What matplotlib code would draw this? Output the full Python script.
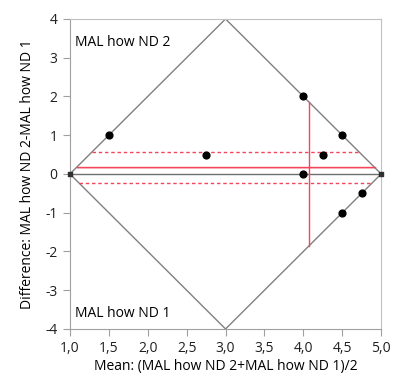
import matplotlib
matplotlib.use("Agg")
import matplotlib.pyplot as plt
import numpy as np
from matplotlib.ticker import FuncFormatter

plt.rcParams['font.family'] = ['Open Sans', 'DejaVu Sans']
plt.rcParams['axes.unicode_minus'] = False

# pair means and differences
mean_vals = [1.5, 2.75, 4.0, 4.0, 4.25, 4.5, 4.5, 4.75]
diff_vals = [1.0, 0.5, 2.0, 0.0, 0.5, 1.0, -1.0, -0.5]
end_means = [1.0, 5.0]
end_diffs = [0.0, 0.0]

# summary statistics shown as red lines
mean_diff = 0.17
upper_ci = 0.57
lower_ci = -0.23
mean_of_means = 4.07

lo, hi = 1.0, 5.0
mid = (lo + hi) / 2
half = hi - mid


def diamond_half_width(y):
    # x extent of the diamond at difference y
    d = (2 * half - abs(y)) / 2
    return mid - d, mid + d


fig = plt.figure(figsize=(3.95, 3.79), dpi=100)
ax = fig.add_axes([0.177, 0.132, 0.788, 0.818])

red = '#f2465c'

# diamond
dx = [lo, mid, hi, mid, lo]
dy = [0, 2 * half, 0, -2 * half, 0]
ax.plot(dx, dy, color='#808080', lw=1.0, zorder=2)
ax.plot([lo, hi], [0, 0], color='#707070', lw=1.0, zorder=2)

# mean difference and limits
x0, x1 = diamond_half_width(mean_diff)
ax.fill_between([x0, x1], mean_diff - 0.03, mean_diff, color='#f9c4cb', lw=0, zorder=1)
ax.plot([x0, x1], [mean_diff, mean_diff], color=red, lw=1.0, zorder=3)
for v in [upper_ci, lower_ci]:
    a, b = diamond_half_width(v)
    ax.plot([a, b], [v, v], color=red, lw=1.0, ls=(0, (2.5, 2)), zorder=3)

# vertical line at the mean of means
top = 2 * min(mean_of_means - lo, hi - mean_of_means)
ax.plot([mean_of_means, mean_of_means], [-top, top], color=red, lw=1.0, zorder=3)

ax.scatter(mean_vals, diff_vals, s=24, color='black', zorder=4)
ax.scatter(end_means, end_diffs, s=9, marker='s', color='#303030', zorder=4, clip_on=False)

ax.text(1.07, 3.4, 'MAL how ND 2', fontsize=10, va='center')
ax.text(1.07, -3.6, 'MAL how ND 1', fontsize=10, va='center')

ax.set_xlim(lo, hi)
ax.set_ylim(-4, 4)
ax.set_xticks(np.arange(1.0, 5.01, 0.5))
ax.set_yticks(range(-4, 5))
ax.xaxis.set_major_formatter(FuncFormatter(lambda v, p: ('%.1f' % v).replace('.', ',')))
ax.yaxis.set_major_formatter(FuncFormatter(lambda v, p: '%d' % v))
ax.tick_params(labelsize=10, length=5, pad=4, color='#a0a0a0', labelcolor='#202020')

for s in ['top', 'right']:
    ax.spines[s].set_color('#c0c0c0')
for s in ['left', 'bottom']:
    ax.spines[s].set_color('#a0a0a0')

ax.set_xlabel('Mean: (MAL how ND 2+MAL how ND 1)/2', fontsize=10, labelpad=2)
ax.set_ylabel('Difference: MAL how ND 2-MAL how ND 1', fontsize=10, labelpad=7)

fig.savefig('out.png', dpi=100)
